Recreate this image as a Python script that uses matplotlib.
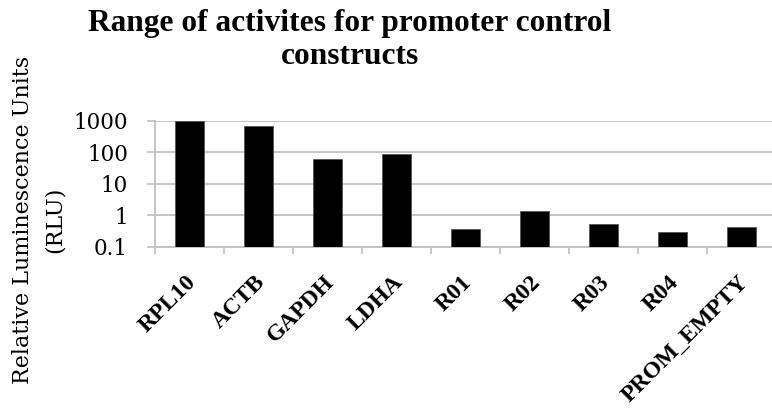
import matplotlib
matplotlib.use("Agg")
import matplotlib.pyplot as plt
import matplotlib.transforms as mtransforms
import numpy as np

categories = ["RPL10", "ACTB", "GAPDH", "LDHA", "R01", "R02", "R03", "R04", "PROM_EMPTY"]
values = [1000, 690, 62, 90, 0.36, 1.37, 0.53, 0.30, 0.41]
ytick_values = [0.1, 1, 10, 100, 1000]
ytick_labels = ["0.1", "1", "10", "100", "1000"]
title = "Range of activites for promoter control\nconstructs"
ylabel = "Relative Luminescence Units\n(RLU)"

W, H = 772, 408
fig = plt.figure(figsize=(W / 100, H / 100), dpi=100)
ax_left, ax_right = 155, 776
ax_top, ax_bottom = 120.7, 246.7
ax = fig.add_axes([ax_left / W, (H - ax_bottom) / H, (ax_right - ax_left) / W, (ax_bottom - ax_top) / H])

grid_col = "#bfbfbf"
x = np.arange(len(categories))
ax.bar(x, values, width=0.41, color="black", edgecolor="#555555", linewidth=0.6, zorder=3)
ax.set_yscale("log")
ax.set_ylim(0.1, 1000)
ax.set_xlim(-0.5, len(categories) - 0.5)

ax.set_yticks(ytick_values)
ax.set_yticklabels(ytick_labels, fontfamily="DejaVu Serif", fontsize=15.5)
ax.yaxis.set_minor_locator(matplotlib.ticker.NullLocator())
ax.tick_params(axis="y", which="major", length=6, width=1.2, color=grid_col, pad=13.5)
ax.yaxis.grid(True, color=grid_col, linewidth=1.3, zorder=0)

ax.set_xticks(x)
ax.set_xticklabels(categories, rotation=45, ha="right", va="top", rotation_mode="anchor",
                   fontfamily="Liberation Serif", fontweight="bold", fontsize=17)
ax.tick_params(axis="x", which="major", length=0, pad=18)
ax.set_xticks(np.arange(-0.5, len(categories), 1.0), minor=True)
ax.tick_params(axis="x", which="minor", length=5, width=1.2, color=grid_col)
offset = mtransforms.ScaledTranslation(-4 / 100, 0, fig.dpi_scale_trans)
for lab in ax.get_xticklabels():
    lab.set_transform(lab.get_transform() + offset)

for s in ["top", "right"]:
    ax.spines[s].set_visible(False)
for s in ["left", "bottom"]:
    ax.spines[s].set_color(grid_col)
    ax.spines[s].set_linewidth(1.3)

ax.set_ylabel(ylabel, fontfamily="DejaVu Serif", fontsize=16, linespacing=1.55,
              va="center", ha="center")
ax.yaxis.set_label_coords((39 - ax_left) / (ax_right - ax_left), (H - 220 - (H - ax_bottom)) / (ax_bottom - ax_top))

fig.text(350 / W, 1 - 9 / H, title, ha="center", va="top", fontfamily="Liberation Serif",
         fontweight="bold", fontsize=22.6, linespacing=1.2)

fig.savefig("out.png", dpi=100)
